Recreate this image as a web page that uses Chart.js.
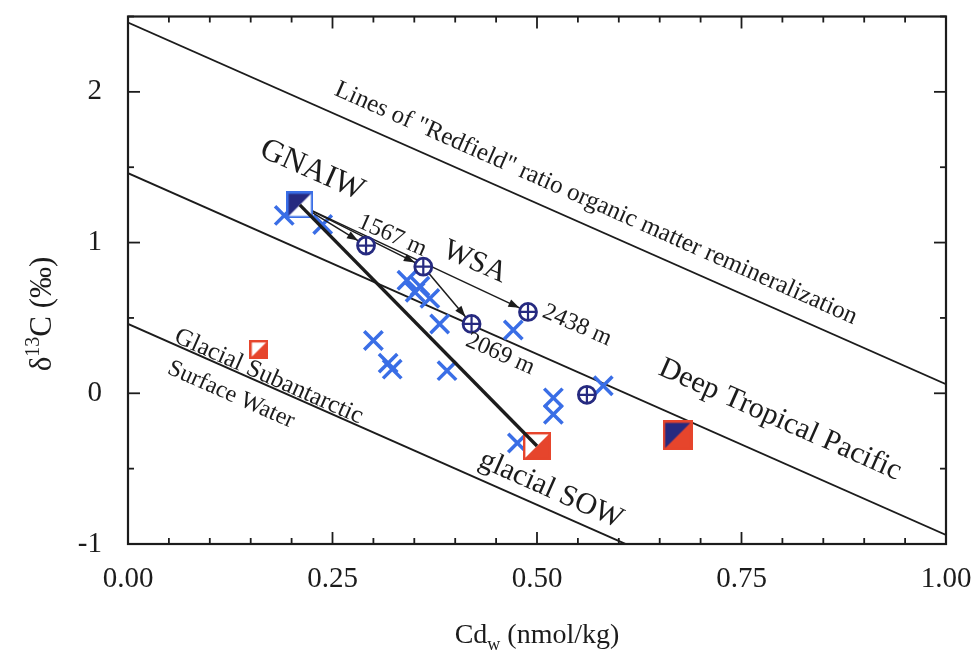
<!DOCTYPE html>
<html>
<head>
<meta charset="utf-8">
<title>Cd vs δ13C</title>
<script src="https://cdn.jsdelivr.net/npm/chart.js@4/dist/chart.umd.min.js"></script>
<style>
  html, body { margin: 0; padding: 0; background: #fff; }
  #wrap { width: 978px; height: 658px; }
</style>
</head>
<body>
<div id="wrap"><canvas id="c" width="978" height="658"></canvas></div>
<script>
// ---- data (Cd_w in nmol/kg, δ13C in ‰) ----
const xTickValues = [0, 0.25, 0.5, 0.75, 1.0];
const yTickValues = [-1, 0, 1, 2];

// Redfield remineralization lines: δ13C at Cd = 0 and at Cd = 1
const redfieldAt0 = [2.46, 1.46, 0.46];
const redfieldAt1 = [0.06, -0.94, -1.94];

// glacial benthic foraminifera (crosses)
const foramCd   = [0.191, 0.238, 0.208, 0.341, 0.357, 0.351, 0.369, 0.381, 0.471, 0.300, 0.318, 0.323, 0.390, 0.520, 0.520, 0.581, 0.476];
const foramD13C = [1.18, 1.12, 1.27, 0.75, 0.71, 0.67, 0.63, 0.46, 0.42, 0.35, 0.20, 0.16, 0.15, -0.03, -0.14, 0.05, -0.33];

// mixing stations (circled plus)
const stationCd   = [0.291, 0.361, 0.420, 0.489, 0.561];
const stationD13C = [0.98, 0.84, 0.46, 0.54, -0.01];

// end-member water masses (squares)
const endNames = ['GNAIW', 'Glacial SSW', 'glacial SOW', 'Deep Tropical Pacific'];
const endCd    = [0.210, 0.160, 0.500, 0.672];
const endD13C  = [1.25, 0.29, -0.35, -0.28];

// mixing arrows: start and end points
const arrowFromCd   = [0.210, 0.210, 0.361, 0.210];
const arrowFromD13C = [1.25, 1.25, 0.84, 1.25];
const arrowToCd     = [0.291, 0.361, 0.420, 0.489];
const arrowToD13C   = [0.98, 0.84, 0.46, 0.54];

// GNAIW -> glacial SOW mixing line
const mixCd   = [0.210, 0.500];
const mixD13C = [1.25, -0.35];

// ---- styling ----
const SERIF = '"Liberation Serif", "Times New Roman", Times, serif';
const INK = '#1c1c1c';
const BLUE = '#3a6ee6';
const NAVY = '#262a80';
const RED = '#e6452c';

function squareIcon(size, ulFill, lrFill, border) {
  const c = document.createElement('canvas');
  c.width = size; c.height = size;
  const g = c.getContext('2d');
  g.fillStyle = lrFill; g.fillRect(0, 0, size, size);
  g.fillStyle = ulFill;
  g.beginPath(); g.moveTo(0, 0); g.lineTo(size, 0); g.lineTo(0, size); g.closePath(); g.fill();
  g.strokeStyle = border; g.lineWidth = 2.4;
  g.strokeRect(1.2, 1.2, size - 2.4, size - 2.4);
  return c;
}
const endIcons = {
  'GNAIW': squareIcon(27, NAVY, '#ffffff', BLUE),
  'Glacial SSW': squareIcon(19, '#ffffff', RED, RED),
  'glacial SOW': squareIcon(28, '#ffffff', RED, RED),
  'Deep Tropical Pacific': squareIcon(30, NAVY, RED, RED)
};

const pts = (xs, ys) => xs.map((v, i) => ({ x: v, y: ys[i] }));

const datasets = [];
redfieldAt0.forEach((y0, i) => {
  datasets.push({
    type: 'line', data: [{ x: 0, y: y0 }, { x: 1, y: redfieldAt1[i] }],
    borderColor: INK, borderWidth: 1.9, pointRadius: 0, order: 7
  });
});
datasets.push({
  type: 'scatter', data: pts(foramCd, foramD13C),
  pointStyle: 'crossRot', pointRadius: 13, borderColor: BLUE, borderWidth: 3.5,
  backgroundColor: BLUE, order: 6
});
arrowFromCd.forEach((x0, i) => {
  datasets.push({
    type: 'line', data: [{ x: x0, y: arrowFromD13C[i] }, { x: arrowToCd[i], y: arrowToD13C[i] }],
    borderColor: INK, borderWidth: 1.5, pointRadius: 0, order: 5
  });
});
datasets.push({
  type: 'scatter', data: pts(stationCd, stationD13C),
  pointStyle: 'circle', pointRadius: 8.5, borderColor: NAVY, borderWidth: 2.8,
  backgroundColor: '#ffffff', order: 4
});
datasets.push({
  type: 'scatter', data: pts(stationCd, stationD13C),
  pointStyle: 'cross', pointRadius: 8.5, borderColor: NAVY, borderWidth: 2.2, order: 3
});
datasets.push({
  type: 'scatter', data: pts(endCd, endD13C),
  pointStyle: endNames.map(n => endIcons[n]), pointRadius: 14, order: 2
});
datasets.push({
  type: 'line', data: pts(mixCd, mixD13C),
  borderColor: INK, borderWidth: 3.4, pointRadius: 0, order: 1
});

// text annotations placed in data coordinates
const notes = [
  { text: 'Lines of "Redfield" ratio organic matter remineralization', cd: 0.572, d: 1.26, size: 25 },
  { text: 'GNAIW', cd: 0.225, d: 1.48, size: 32 },
  { text: '1567 m', cd: 0.323, d: 1.045, size: 24 },
  { text: 'WSA', cd: 0.424, d: 0.87, size: 30 },
  { text: '2438 m', cd: 0.549, d: 0.45, size: 24 },
  { text: '2069 m', cd: 0.455, d: 0.26, size: 24 },
  { text: 'Deep Tropical Pacific', cd: 0.797, d: -0.176, size: 30 },
  { text: 'glacial SOW', cd: 0.517, d: -0.64, size: 30 },
  { text: 'Glacial Subantarctic', cd: 0.172, d: 0.11, size: 25 },
  { text: 'Surface Water', cd: 0.126, d: -0.01, size: 24 }
];

const decorations = {
  id: 'decorations',
  afterDatasetsDraw(chart) {
    const { ctx, scales: { x, y } } = chart;
    // arrowheads, tips resting on the station circles
    ctx.save();
    ctx.fillStyle = INK;
    arrowFromCd.forEach((x0, i) => {
      const ax = x.getPixelForValue(x0), ay = y.getPixelForValue(arrowFromD13C[i]);
      const bx = x.getPixelForValue(arrowToCd[i]), by = y.getPixelForValue(arrowToD13C[i]);
      const ang = Math.atan2(by - ay, bx - ax);
      const tx = bx - Math.cos(ang) * 9.5, ty = by - Math.sin(ang) * 9.5;
      ctx.save();
      ctx.translate(tx, ty); ctx.rotate(ang);
      ctx.beginPath(); ctx.moveTo(0, 0); ctx.lineTo(-11, -4); ctx.lineTo(-11, 4); ctx.closePath(); ctx.fill();
      ctx.restore();
    });
    // rotated labels follow the slope of the Redfield lines
    const ang = Math.atan2(y.getPixelForValue(redfieldAt1[0]) - y.getPixelForValue(redfieldAt0[0]),
                           x.getPixelForValue(1) - x.getPixelForValue(0));
    ctx.fillStyle = INK;
    ctx.textAlign = 'center';
    ctx.textBaseline = 'middle';
    notes.forEach(n => {
      ctx.save();
      ctx.translate(x.getPixelForValue(n.cd), y.getPixelForValue(n.d));
      ctx.rotate(ang);
      ctx.font = n.size + 'px ' + SERIF;
      ctx.fillText(n.text, 0, 0);
      ctx.restore();
    });
    ctx.restore();
  },
  afterDraw(chart) {
    const { ctx, chartArea: a, scales: { x, y } } = chart;
    ctx.save();
    ctx.strokeStyle = INK;
    ctx.lineWidth = 2.2;
    ctx.strokeRect(a.left, a.top, a.right - a.left, a.bottom - a.top);
    ctx.lineWidth = 1.8;
    const seg = (x1, y1, x2, y2) => { ctx.beginPath(); ctx.moveTo(x1, y1); ctx.lineTo(x2, y2); ctx.stroke(); };
    for (let i = 0; i <= 20; i++) {
      const v = i * 0.05, L = i % 5 === 0 ? 12 : 6, px = x.getPixelForValue(v);
      seg(px, a.bottom, px, a.bottom - L);
      seg(px, a.top, px, a.top + L);
    }
    for (let i = 0; i <= 7; i++) {
      const v = -1 + i * 0.5, L = i % 2 === 0 ? 12 : 6, py = y.getPixelForValue(v);
      seg(a.left, py, a.left + L, py);
      seg(a.right, py, a.right - L, py);
    }
    // axis titles with sub/superscripts
    ctx.fillStyle = INK;
    ctx.textBaseline = 'alphabetic';
    ctx.textAlign = 'left';
    const big = '28px ' + SERIF, small = '18px ' + SERIF;
    // x title: Cd_w (nmol/kg)
    const parts = [['Cd', big, 0], ['w', small, 7], [' (nmol/kg)', big, 0]];
    let w = 0;
    parts.forEach(p => { ctx.font = p[1]; w += ctx.measureText(p[0]).width; });
    let cx = (a.left + a.right) / 2 - w / 2;
    parts.forEach(p => { ctx.font = p[1]; ctx.fillText(p[0], cx, 643 + p[2]); cx += ctx.measureText(p[0]).width; });
    // y title: δ^13C (‰)
    const bigY = '31px ' + SERIF, smallY = '20px ' + SERIF;
    const yparts = [['δ', bigY, 0], ['13', smallY, -12], ['C (‰)', bigY, 0]];
    w = 0;
    yparts.forEach(p => { ctx.font = p[1]; w += ctx.measureText(p[0]).width; });
    ctx.translate(51, 314);
    ctx.rotate(-Math.PI / 2);
    cx = -w / 2;
    yparts.forEach(p => { ctx.font = p[1]; ctx.fillText(p[0], cx, p[2]); cx += ctx.measureText(p[0]).width; });
    ctx.restore();
  }
};

new Chart(document.getElementById('c'), {
  type: 'scatter',
  data: { datasets },
  options: {
    responsive: false,
    animation: false,
    events: [],
    layout: { padding: { left: 0, right: 32, top: 9, bottom: 0 } },
    plugins: { legend: { display: false }, tooltip: { enabled: false } },
    scales: {
      x: {
        type: 'linear', min: 0, max: 1,
        afterBuildTicks: s => { s.ticks = xTickValues.map(v => ({ value: v })); },
        afterFit: s => { s.height = 114; s.paddingLeft = 0; s.paddingRight = 0; },
        grid: { display: false, drawTicks: false },
        border: { display: false },
        ticks: { autoSkip: false, maxRotation: 0, padding: 18, color: INK,
                 font: { family: SERIF, size: 29 }, callback: v => Number(v).toFixed(2) }
      },
      y: {
        type: 'linear', min: -1, max: 2.5,
        afterBuildTicks: s => { s.ticks = yTickValues.map(v => ({ value: v })); },
        afterFit: s => { s.width = 128; s.paddingTop = 0; s.paddingBottom = 0; },
        grid: { display: false, drawTicks: false },
        border: { display: false },
        ticks: { autoSkip: false, padding: 26, color: INK,
                 font: { family: SERIF, size: 29 }, callback: v => String(v) }
      }
    }
  },
  plugins: [decorations]
});
</script>
</body>
</html>
